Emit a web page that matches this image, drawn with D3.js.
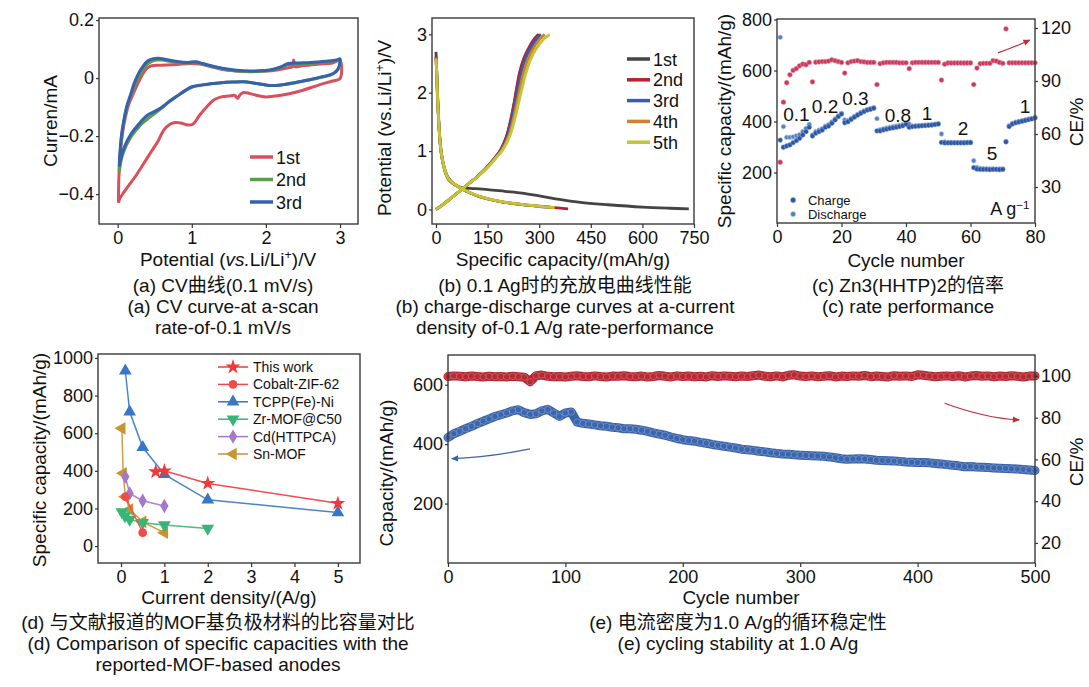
<!DOCTYPE html>
<html>
<head>
<meta charset="utf-8">
<script src="https://cdn.jsdelivr.net/npm/d3@7"></script>
<style>
  body { margin: 0; background: #fff; }
</style>
</head>
<body>
<div id="chart"></div>
<script>
const FONT = '"Liberation Sans", Arial, "Noto Sans CJK SC", sans-serif'

// ---------- (a) CV curves: [potential V, current mA] ----------
const cvFirst = [[0.01,-0.43],[0.015,-0.35],[0.03,-0.28],[0.06,-0.2],[0.1,-0.14],[0.15,-0.09],[0.2,-0.06],[0.27,-0.02],[0.33,0.01],[0.39,0.032],[0.45,0.042],[0.6,0.044],[0.8,0.047],[1.0,0.05],[1.1,0.048],[1.25,0.04],[1.4,0.03],[1.6,0.024],[1.8,0.022],[2.0,0.024],[2.15,0.028],[2.3,0.035],[2.36,0.04],[2.375,0.062],[2.39,0.04],[2.5,0.043],[2.7,0.048],[2.9,0.052],[3.0,0.06],
  [3.0,-0.002],[2.9,-0.01],[2.7,-0.025],[2.5,-0.042],[2.3,-0.055],[2.1,-0.063],[2.0,-0.065],[1.88,-0.06],[1.78,-0.053],[1.7,-0.05],[1.65,-0.058],[1.62,-0.07],[1.58,-0.06],[1.5,-0.062],[1.4,-0.065],[1.3,-0.075],[1.2,-0.1],[1.1,-0.13],[1.02,-0.158],[0.95,-0.162],[0.85,-0.155],[0.78,-0.153],[0.7,-0.16],[0.62,-0.18],[0.55,-0.215],[0.45,-0.255],[0.35,-0.295],[0.25,-0.335],[0.15,-0.37],[0.08,-0.395],[0.03,-0.415],[0.01,-0.43]]
const cvSecond = [[0.02,-0.325],[0.03,-0.27],[0.05,-0.21],[0.08,-0.155],[0.12,-0.105],[0.17,-0.065],[0.23,-0.025],[0.3,0.012],[0.37,0.04],[0.44,0.055],[0.52,0.062],[0.6,0.062],[0.75,0.056],[0.95,0.052],[1.05,0.054],[1.15,0.048],[1.3,0.038],[1.5,0.028],[1.7,0.023],[1.9,0.023],[2.05,0.026],[2.2,0.036],[2.3,0.046],[2.45,0.048],[2.6,0.05],[2.8,0.055],[2.95,0.06],[3.0,0.064],
  [3.0,0.052],[2.97,0.028],[2.9,0.013],[2.75,0.003],[2.6,-0.006],[2.4,-0.016],[2.25,-0.022],[2.1,-0.026],[2.0,-0.024],[1.85,-0.018],[1.7,-0.013],[1.55,-0.014],[1.4,-0.016],[1.25,-0.02],[1.1,-0.026],[1.0,-0.032],[0.9,-0.045],[0.8,-0.062],[0.7,-0.08],[0.6,-0.103],[0.5,-0.122],[0.42,-0.138],[0.35,-0.152],[0.28,-0.17],[0.2,-0.195],[0.12,-0.23],[0.06,-0.27],[0.02,-0.325]]
const cvThird = [[0.02,-0.305],[0.03,-0.26],[0.05,-0.2],[0.08,-0.15],[0.12,-0.1],[0.17,-0.06],[0.22,-0.02],[0.28,0.015],[0.34,0.04],[0.4,0.058],[0.47,0.066],[0.55,0.068],[0.65,0.064],[0.8,0.057],[0.95,0.054],[1.05,0.056],[1.15,0.05],[1.3,0.04],[1.5,0.03],[1.7,0.025],[1.9,0.025],[2.05,0.028],[2.2,0.038],[2.3,0.05],[2.45,0.052],[2.6,0.054],[2.8,0.058],[2.95,0.062],[3.0,0.066],
  [3.0,0.055],[2.97,0.03],[2.9,0.015],[2.75,0.004],[2.6,-0.005],[2.4,-0.015],[2.25,-0.022],[2.1,-0.026],[2.0,-0.024],[1.85,-0.018],[1.7,-0.013],[1.55,-0.014],[1.4,-0.016],[1.25,-0.02],[1.1,-0.025],[1.0,-0.03],[0.9,-0.045],[0.8,-0.063],[0.7,-0.08],[0.6,-0.1],[0.5,-0.115],[0.42,-0.125],[0.35,-0.14],[0.28,-0.16],[0.2,-0.185],[0.12,-0.22],[0.06,-0.26],[0.02,-0.305]]
const cvNames = ["1st", "2nd", "3rd"]
const cvColors = ["#d9505c", "#5b9a4f", "#3561ad"]
const cvXTicks = [0, 1, 2, 3]
const cvYTicks = [-0.4, -0.2, 0, 0.2]

// ---------- (b) charge-discharge: [capacity mAh/g, potential V] ----------
const gcdDis1 = [[0,2.7],[2,2.4],[4,2.05],[7,1.65],[10,1.33],[14,1.05],[20,0.82],[28,0.64],[36,0.54],[50,0.45],[75,0.37],[100,0.36],[150,0.34],[200,0.31],[250,0.28],[300,0.23],[360,0.17],[420,0.12],[500,0.08],[600,0.04],[680,0.02],[735,0.01]]
const gcdDis2 = [[0,2.62],[2,2.35],[4,2.0],[7,1.6],[10,1.3],[14,1.02],[20,0.8],[28,0.62],[36,0.52],[50,0.44],[70,0.37],[100,0.28],[130,0.21],[166,0.16],[200,0.12],[263,0.075],[300,0.055],[345,0.03],[384,0.01]]
const gcdDis3 = [[0,2.6],[2,2.35],[4,2.0],[7,1.6],[10,1.3],[14,1.02],[20,0.8],[28,0.62],[36,0.52],[50,0.44],[70,0.37],[100,0.28],[130,0.215],[166,0.16],[200,0.12],[263,0.075],[300,0.05],[342,0.03]]
const gcdDis4 = [[0,2.6],[2,2.35],[4,2.0],[7,1.6],[10,1.3],[14,1.03],[20,0.8],[28,0.63],[36,0.52],[50,0.44],[70,0.37],[100,0.28],[130,0.215],[166,0.16],[200,0.122],[263,0.076],[300,0.052],[344,0.03]]
const gcdDis5 = [[0,2.58],[2,2.35],[4,2.0],[7,1.6],[10,1.3],[14,1.03],[20,0.81],[28,0.63],[36,0.53],[50,0.45],[70,0.37],[100,0.285],[130,0.22],[166,0.165],[200,0.125],[263,0.078],[300,0.055],[345,0.03]]
const gcdChg1 = [[0,0],[20,0.08],[45,0.2],[70,0.32],[95,0.44],[120,0.56],[145,0.7],[168,0.86],[188,1.02],[205,1.25],[218,1.55],[228,1.85],[236,2.1],[245,2.35],[257,2.55],[272,2.72],[288,2.87],[302,3.0]]
const gcdChg2 = [[0,0],[20,0.08],[45,0.2],[70,0.32],[95,0.44],[120,0.56],[145,0.7],[168,0.86],[188,1.02],[205,1.25],[218,1.55],[228,1.85],[235,2.1],[243,2.35],[254,2.57],[268,2.75],[283,2.9],[298,3.0]]
const gcdChg3 = [[0,0],[20,0.08],[45,0.2],[70,0.32],[95,0.44],[120,0.56],[145,0.7],[169,0.86],[190,1.02],[208,1.25],[221,1.55],[231,1.85],[239,2.1],[248,2.35],[259,2.57],[273,2.75],[289,2.9],[305,3.0]]
const gcdChg4 = [[0,0],[20,0.08],[45,0.2],[70,0.32],[95,0.44],[120,0.56],[146,0.7],[170,0.86],[192,1.02],[211,1.25],[225,1.55],[236,1.85],[245,2.1],[255,2.35],[267,2.57],[282,2.75],[299,2.9],[316,3.0]]
const gcdChg5 = [[0,0],[20,0.08],[45,0.2],[70,0.32],[95,0.44],[121,0.56],[147,0.7],[171,0.86],[194,1.02],[214,1.25],[229,1.55],[241,1.85],[251,2.1],[262,2.35],[275,2.57],[291,2.75],[310,2.9],[330,3.0]]
const gcdNames = ["1st", "2nd", "3rd", "4th", "5th"]
const gcdColors = ["#444444", "#b8202e", "#355fae", "#d0802e", "#c3c532"]
const gcdXTicks = [0, 150, 300, 450, 600, 750]
const gcdYTicks = [0, 1, 2, 3]

// ---------- (c) rate performance, cycles 1..80 ----------
const rateCharge = [327,299,304,308,317,325,334,347,360,377, 343,354,360,366,377,382,393,406,419,429,
  395,399,408,417,425,432,439,445,448,452, 363,363,367,370,373,375,377,380,383,389,
  377,380,381,382,383,384,385,386,388,390, 318,316,316,316,316,316,316,316,317,317,
  219,213,212,212,212,211,212,212,211,212, 320,380,390,395,398,401,404,407,410,414]
const rateDischarge = [730,380,338,338,340,344,348,360,373,389, 347,360,366,372,382,388,398,410,422,432,
  406,404,412,420,428,436,442,447,450,454, 411,368,371,374,377,380,382,385,388,392,
  390,382,383,384,385,386,387,388,390,392, 351,320,318,318,318,318,318,318,318,319,
  246,220,216,215,214,214,214,213,214,214, 322,384,393,397,400,403,406,409,412,416]
const rateCE = [44,78,89,93.5,96,97,98.6,99.6,99.2,100.5, 89.5,100.6,100.8,101,101,101.3,102,101.5,101,100.5,
  94.5,100.3,101,101.3,101.5,101,100.8,100.5,100.5,100.5, 88,99.8,100.3,100.5,100.5,100.5,100.5,100.3,100.3,100.3,
  97,100.3,100.5,100.5,100.5,100.5,100.5,100.5,100.5,100.5, 90.5,99.5,100.2,100.2,100.2,100.2,100.2,100.2,100.2,100.2,
  88,97.3,99.8,100,100,100,101.5,101.3,100.5,100, 119.5,100.3,100.3,100.3,100.3,100.3,100.3,100.3,100.3,100.3]
const rateLabels = [["0.1",6.0,402],["0.2",14.9,433],["0.3",24.3,465],["0.8",37.5,398],["1",46.5,406],["2",57.7,347],["5",66.7,249],["1",76.9,433]]
const rateXTicks = [0, 20, 40, 60, 80]
const rateYTicks = [200, 400, 600, 800]
const rateCETicks = [30, 60, 90, 120]

// ---------- (d) comparison with reported MOF anodes: [A/g, mAh/g] ----------
const cmpNames = ["This work", "Cobalt-ZIF-62", "TCPP(Fe)-Ni", "Zr-MOF@C50", "Cd(HTTPCA)", "Sn-MOF"]
const cmpThisWork = [[0.8,395],[1,400],[2,333],[5,227]]
const cmpCobalt = [[0.1,262],[0.5,71]]
const cmpTCPP = [[0.1,932],[0.2,714],[0.5,525],[1,381],[2,246],[5,178]]
const cmpZr = [[0.02,182],[0.09,160],[0.2,142],[0.5,124],[1,112],[2,94]]
const cmpCd = [[0.1,369],[0.2,280],[0.5,241],[1,213]]
const cmpSn = [[0.02,626],[0.05,387],[0.1,262],[0.2,195],[0.5,129],[1,71]]
const cmpColors = ["#f0383c", "#f04a4a", "#3677c6", "#35b676", "#a479c9", "#c99530"]
const cmpXTicks = [0, 1, 2, 3, 4, 5]
const cmpYTicks = [0, 200, 400, 600, 800, 1000]

// ---------- (e) cycling at 1.0 A/g, every 5th cycle from 0 to 500 ----------
const cycCapacity = [422,435,443,452,460,469,477,485,493,499, 505,512,516,506,500,502,512,517,505,493,
  505,508,474,470,468,465,462,460,457,455, 452,452,450,447,443,438,434,430,424,419,
  415,412,410,406,403,399,396,393,390,387, 383,381,379,376,374,371,369,367,366,364,
  363,362,361,360,359,357,354,351,349,350, 351,350,348,346,345,344,343,342,340,339,
  338,338,337,335,333,331,329,327,324,325, 323,322,321,320,319,318,317,316,315,313, 311]
const cycCE = [99.7,100.0,99.8,99.6,99.9,99.7,99.5,99.8,99.6,99.7, 99.5,99.8,99.6,99.4,97.2,100.1,100.4,99.8,99.6,99.7,
  99.5,99.8,100.1,99.7,99.6,100.0,99.7,99.5,99.9,99.8, 100.1,99.7,99.6,99.9,99.5,99.7,100.2,99.8,99.5,100.0,
  99.7,99.9,99.6,99.8,99.5,100.1,99.7,100.0,99.8,99.6, 99.9,99.7,100.1,100.4,99.8,99.6,100.0,99.5,100.3,100.5,
  99.9,99.7,100.0,99.6,99.8,100.1,99.5,99.9,99.7,100.0, 99.8,100.2,99.6,99.9,99.7,99.5,100.1,99.8,100.0,99.7,
  100.5,100.3,99.9,99.6,99.8,100.0,99.7,100.1,99.5,99.9, 100.2,99.8,100.0,99.6,99.9,99.7,100.1,99.8,99.5,99.9, 100.0]
const cycXTicks = [0, 100, 200, 300, 400, 500]
const cycYTicks = [200, 400, 600]
const cycCETicks = [20, 40, 60, 80, 100]

// ---------- captions ----------
const capA = ["(a) CV曲线(0.1 mV/s)", "(a) CV curve-at a-scan", "rate-of-0.1 mV/s"]
const capB = ["(b) 0.1 Ag时的充放电曲线性能", "(b) charge-discharge curves at a-current", "density of-0.1 A/g rate-performance"]
const capC = ["(c) Zn3(HHTP)2的倍率", "(c) rate performance"]
const capD = ["(d) 与文献报道的MOF基负极材料的比容量对比", "(d) Comparison of specific capacities with the", "reported-MOF-based anodes"]
const capE = ["(e) 电流密度为1.0 A/g的循环稳定性", "(e) cycling stability at 1.0 A/g"]


const svg = d3.select("#chart")
  .append("svg")
    .attr("width", 1089)
    .attr("height", 687)
    .attr("style", "background-color: white;")
    .attr("font-family", FONT)

const defs = svg.append("defs")
function arrowHead(id, color) {
  defs.append("marker")
    .attr("id", id)
    .attr("viewBox", "0 0 10 10")
    .attr("refX", 9).attr("refY", 5)
    .attr("markerWidth", 8).attr("markerHeight", 7)
    .attr("markerUnits", "userSpaceOnUse")
    .attr("orient", "auto")
    .append("path").attr("d", "M0,0.5 L10,5 L0,9.5 Z").attr("fill", color)
}
arrowHead("arRed", "#c0303a")
arrowHead("arBlue", "#3a64aa")

function frame(box) {
  svg.append("rect")
    .attr("x", box.l).attr("y", box.t)
    .attr("width", box.r - box.l).attr("height", box.b - box.t)
    .attr("fill", "none").attr("stroke", "#3a3a3a").attr("stroke-width", 1.4)
}

function styleAxis(g) {
  g.attr("font-family", FONT).attr("font-size", 18)
  g.select(".domain").remove()
  g.selectAll(".tick line").attr("stroke", "#333").attr("stroke-width", 1.2)
  g.selectAll(".tick text").attr("fill", "#111")
}

function axisB(x, box, ticks, fmt) {
  const g = svg.append("g").attr("transform", `translate(0, ${box.b})`)
    .call(d3.axisBottom(x).tickValues(ticks).tickSize(4).tickPadding(3).tickFormat(fmt || (d => d)))
  styleAxis(g)
}
function axisL(y, box, ticks, fmt) {
  const g = svg.append("g").attr("transform", `translate(${box.l}, 0)`)
    .call(d3.axisLeft(y).tickValues(ticks).tickSize(3).tickPadding(2).tickFormat(fmt || (d => d)))
  styleAxis(g)
}
function axisR(y, box, ticks) {
  const g = svg.append("g").attr("transform", `translate(${box.r}, 0)`)
    .call(d3.axisRight(y).tickValues(ticks).tickSize(3).tickPadding(3).tickFormat(d => d))
  styleAxis(g)
}

function vTitle(x, y, parts, size) {
  const t = svg.append("text")
    .attr("transform", `translate(${x}, ${y}) rotate(-90)`)
    .attr("text-anchor", "middle").attr("font-size", size || 19).attr("fill", "#111")
  addParts(t, parts)
}
function hTitle(x, y, parts, size) {
  const t = svg.append("text").attr("x", x).attr("y", y)
    .attr("text-anchor", "middle").attr("font-size", size || 19).attr("fill", "#111")
  addParts(t, parts)
}
// parts: strings or {t, italic, sup}
function addParts(t, parts) {
  if (typeof parts === "string") parts = [parts]
  parts.forEach(p => {
    if (typeof p === "string") { t.append("tspan").text(p); return }
    const s = t.append("tspan").text(p.t)
    if (p.italic) s.attr("font-style", "italic")
    if (p.sup) s.attr("baseline-shift", "super").attr("font-size", "65%")
  })
}

function captions(lines, cx, y0) {
  lines.forEach((line, i) => {
    svg.append("text")
      .attr("x", cx).attr("y", y0 + i * 21)
      .attr("text-anchor", "middle").attr("font-size", 19).attr("fill", "#111")
      .text(line)
  })
}

// ===================== (a) =====================
{
  const box = {l: 99, r: 358, t: 18, b: 224}
  const x = d3.scaleLinear().domain([-0.252, 3.243]).range([box.l, box.r])
  const y = d3.scaleLinear().domain([-0.503, 0.207]).range([box.b, box.t])
  const line = d3.line().x(d => x(d[0])).y(d => y(d[1])).curve(d3.curveCatmullRom.alpha(0.5))

  ;[cvFirst, cvSecond, cvThird].forEach((curve, i) => {
    svg.append("path").datum(curve)
      .attr("d", line).attr("fill", "none")
      .attr("stroke", cvColors[i]).attr("stroke-width", 3)
      .attr("stroke-linejoin", "round")
  })

  frame(box)
  axisB(x, box, cvXTicks)
  axisL(y, box, cvYTicks, d => d === 0 ? "0" : d3.format(".1f")(d))

  cvNames.forEach((name, i) => {
    const yy = 157 + i * 22.5
    svg.append("line").attr("x1", 250).attr("x2", 273).attr("y1", yy).attr("y2", yy)
      .attr("stroke", cvColors[i]).attr("stroke-width", 3.5)
    svg.append("text").attr("x", 276).attr("y", yy + 6.5)
      .attr("font-size", 18).attr("fill", "#111").text(name)
  })

  vTitle(57, 121, "Curren/mA")
  hTitle(228, 266, ["Potential (", {t: "vs.", italic: true}, "Li/Li", {t: "+", sup: true}, ")/V"])
  captions(capA, 223, 292)
}

// ===================== (b) =====================
{
  const box = {l: 432, r: 694, t: 18, b: 224}
  const x = d3.scaleLinear().domain([-11.6, 750]).range([box.l, box.r])
  const y = d3.scaleLinear().domain([-0.25, 3.28]).range([box.b, box.t])
  const line = d3.line().x(d => x(d[0])).y(d => y(d[1])).curve(d3.curveCatmullRom.alpha(0.5))

  const dis = [gcdDis1, gcdDis2, gcdDis3, gcdDis4, gcdDis5]
  const chg = [gcdChg1, gcdChg2, gcdChg3, gcdChg4, gcdChg5]
  dis.forEach((curve, i) => {
    svg.append("path").datum(chg[i]).attr("d", line).attr("fill", "none")
      .attr("stroke", gcdColors[i]).attr("stroke-width", 2.8)
    svg.append("path").datum(curve).attr("d", line).attr("fill", "none")
      .attr("stroke", gcdColors[i]).attr("stroke-width", 2.8)
  })

  frame(box)
  axisB(x, box, gcdXTicks)
  axisL(y, box, gcdYTicks)

  gcdNames.forEach((name, i) => {
    const yy = 59 + i * 20.8
    svg.append("line").attr("x1", 627).attr("x2", 650).attr("y1", yy).attr("y2", yy)
      .attr("stroke", gcdColors[i]).attr("stroke-width", 3.5)
    svg.append("text").attr("x", 653).attr("y", yy + 6.5)
      .attr("font-size", 18).attr("fill", "#111").text(name)
  })

  vTitle(391, 128, ["Potential (vs.Li/Li", {t: "+", sup: true}, ")/V"])
  hTitle(563, 266, "Specific capacity/(mAh/g)")
  captions(capB, 565, 292)
}

// ===================== (c) =====================
{
  const box = {l: 777, r: 1035, t: 19, b: 223}
  const x = d3.scaleLinear().domain([0, 80]).range([box.l, box.r])
  const y = d3.scaleLinear().domain([0, 800]).range([box.b + 0.5, box.t + 0.5])
  const y2 = d3.scaleLinear().domain([9.6, 125.1]).range([box.b, box.t])

  svg.append("g").selectAll("circle").data(rateCE).join("circle")
    .attr("cx", (d, i) => x(i + 1)).attr("cy", d => y2(d)).attr("r", 2.4)
    .attr("fill", "#c9375a").attr("stroke", "#e88ea2").attr("stroke-width", 0.6)
  svg.append("g").selectAll("circle").data(rateDischarge).join("circle")
    .attr("cx", (d, i) => x(i + 1)).attr("cy", d => y(d)).attr("r", 2.4)
    .attr("fill", "#5480c2").attr("stroke", "#c7d5ee").attr("stroke-width", 0.7)
  svg.append("g").selectAll("circle").data(rateCharge).join("circle")
    .attr("cx", (d, i) => x(i + 1)).attr("cy", d => y(d)).attr("r", 2.4)
    .attr("fill", "#2b55a2").attr("stroke", "#8fa8d6").attr("stroke-width", 0.5)

  rateLabels.forEach(([t, cx, cy]) => {
    svg.append("text").attr("x", x(cx)).attr("y", y(cy))
      .attr("text-anchor", "middle").attr("font-size", 19).attr("fill", "#111").text(t)
  })
  const ag = svg.append("text").attr("x", x(72.2)).attr("y", y(33))
    .attr("text-anchor", "middle").attr("font-size", 18).attr("fill", "#111")
  addParts(ag, ["A g", {t: "−1", sup: true}])

  // legend
  ;[["Charge", "#2b55a2", "#8fa8d6", 92], ["Discharge", "#5480c2", "#c7d5ee", 37]].forEach(([t, f, s, v]) => {
    svg.append("circle").attr("cx", x(5)).attr("cy", y(v)).attr("r", 2.6)
      .attr("fill", f).attr("stroke", s).attr("stroke-width", 0.6)
    svg.append("text").attr("x", x(9.6)).attr("y", y(v) + 4.5)
      .attr("font-size", 13).attr("fill", "#111").text(t)
  })

  // arrow pointing to CE axis
  svg.append("path")
    .attr("d", `M${x(68.5)},${y2(105.9)} Q${x(73.5)},${y2(109.1)} ${x(78.4)},${y2(113.2)}`)
    .attr("fill", "none").attr("stroke", "#c0303a").attr("stroke-width", 1.2)
    .attr("marker-end", "url(#arRed)")

  frame(box)
  axisB(x, box, rateXTicks)
  axisL(y, box, rateYTicks)
  axisR(y2, box, rateCETicks)

  vTitle(731, 121, "Specific capacity/(mAh/g)")
  vTitle(1083, 122, "CE/%")
  hTitle(906, 267, "Cycle number")
  captions(capC, 908, 292)
}

// ===================== (d) =====================
{
  const box = {l: 98, r: 360, t: 354, b: 563}
  const x = d3.scaleLinear().domain([-0.53, 5.51]).range([box.l, box.r])
  const y = d3.scaleLinear().domain([-90, 1021]).range([box.b, box.t])
  const line = d3.line().x(d => x(d[0])).y(d => y(d[1]))

  const series = [cmpThisWork, cmpCobalt, cmpTCPP, cmpZr, cmpCd, cmpSn]
  const shapes = [
    {type: d3.symbolStar, size: 70, rot: 0},
    {type: d3.symbolCircle, size: 60, rot: 0},
    {type: d3.symbolTriangle, size: 70, rot: 0},
    {type: d3.symbolTriangle, size: 70, rot: 180},
    {type: d3.symbolDiamond, size: 60, rot: 0},
    {type: d3.symbolTriangle, size: 70, rot: -90}
  ]
  // draw back-to-front so "This work" stays on top
  ;[5, 4, 3, 2, 1, 0].forEach(i => {
    svg.append("path").datum(series[i]).attr("d", line).attr("fill", "none")
      .attr("stroke", cmpColors[i]).attr("stroke-width", 1.5).attr("stroke-opacity", 0.9)
    svg.append("g").selectAll("path").data(series[i]).join("path")
      .attr("transform", d => `translate(${x(d[0])}, ${y(d[1])}) rotate(${shapes[i].rot})`)
      .attr("d", d3.symbol().type(shapes[i].type).size(shapes[i].size))
      .attr("fill", cmpColors[i])
  })

  frame(box)
  axisB(x, box, cmpXTicks)
  axisL(y, box, cmpYTicks)

  cmpNames.forEach((name, i) => {
    const yy = 367 + i * 17.4
    svg.append("line").attr("x1", 218).attr("x2", 248).attr("y1", yy).attr("y2", yy)
      .attr("stroke", cmpColors[i]).attr("stroke-width", 1.5)
    svg.append("path")
      .attr("transform", `translate(233, ${yy}) rotate(${shapes[i].rot})`)
      .attr("d", d3.symbol().type(shapes[i].type).size(shapes[i].size))
      .attr("fill", cmpColors[i])
    svg.append("text").attr("x", 253).attr("y", yy + 5)
      .attr("font-size", 14).attr("fill", "#111").text(name)
  })

  vTitle(46, 460, "Specific capacity/(mAh/g)")
  hTitle(229, 604, "Current density/(A/g)")
  captions(capD, 218, 629)
}

// ===================== (e) =====================
{
  const box = {l: 448, r: 1035, t: 355, b: 563}
  const x = d3.scaleLinear().domain([0, 500]).range([box.l, box.r])
  const y = d3.scaleLinear().domain([0, 700]).range([box.b, box.t])
  const y2 = d3.scaleLinear().domain([10.4, 110]).range([box.b, box.t])
  const cyc = d3.range(0, 501, 5)

  const ceLine = d3.line().x((d, i) => x(cyc[i])).y(d => y2(d))
  const capLine = d3.line().x((d, i) => x(cyc[i])).y(d => y(d))

  svg.append("path").datum(cycCE).attr("d", ceLine).attr("fill", "none")
    .attr("stroke", "#b2262f").attr("stroke-width", 9).attr("stroke-linejoin", "round").attr("stroke-linecap", "round")
  svg.append("g").selectAll("circle").data(cycCE).join("circle")
    .attr("cx", (d, i) => x(cyc[i])).attr("cy", d => y2(d)).attr("r", 3.2)
    .attr("fill", "#b52a33").attr("stroke", "#d9737a").attr("stroke-width", 0.6)

  svg.append("path").datum(cycCapacity).attr("d", capLine).attr("fill", "none")
    .attr("stroke", "#3a63aa").attr("stroke-width", 9).attr("stroke-linejoin", "round").attr("stroke-linecap", "round")
  svg.append("g").selectAll("circle").data(cycCapacity).join("circle")
    .attr("cx", (d, i) => x(cyc[i])).attr("cy", d => y(d)).attr("r", 3.2)
    .attr("fill", "#3b65ac").attr("stroke", "#89a4d4").attr("stroke-width", 0.6)

  // arrows
  svg.append("path")
    .attr("d", `M${x(69.8)},${y(384)} Q${x(34.7)},${y(356)} ${x(3.2)},${y(351)}`)
    .attr("fill", "none").attr("stroke", "#3a64aa").attr("stroke-width", 1.3)
    .attr("marker-end", "url(#arBlue)")
  svg.append("path")
    .attr("d", `M${x(423)},${y2(86.9)} Q${x(458)},${y2(79.7)} ${x(486.5)},${y2(78.9)}`)
    .attr("fill", "none").attr("stroke", "#c0303a").attr("stroke-width", 1.3)
    .attr("marker-end", "url(#arRed)")

  frame(box)
  axisB(x, box, cycXTicks)
  axisL(y, box, cycYTicks)
  axisR(y2, box, cycCETicks)

  vTitle(393, 473, "Capacity/(mAh/g)")
  vTitle(1083, 462, "CE/%")
  hTitle(741, 604, "Cycle number")
  captions(capE, 738, 629)
}
</script>
</body>
</html>
